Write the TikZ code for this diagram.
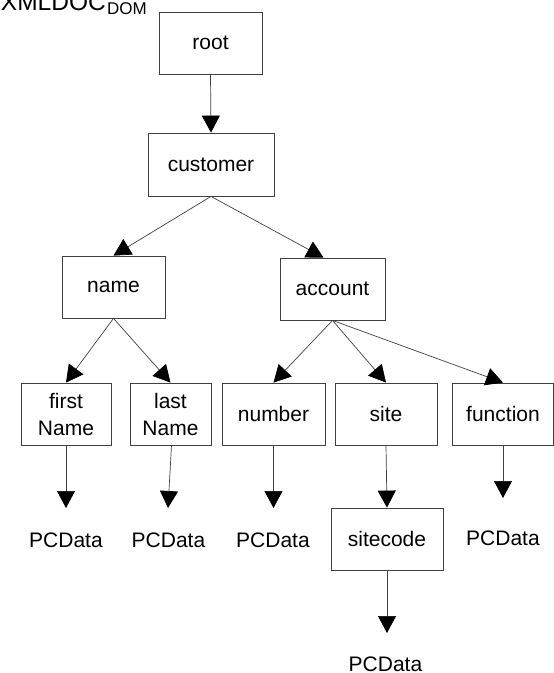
\documentclass[tikz,border=0pt]{standalone}
\usepackage{fontspec}
\setmainfont{Liberation Sans}
\usetikzlibrary{arrows.meta,calc}
\begin{document}
\begin{tikzpicture}[x=1pt,y=-1pt,
  box/.style={draw=black!75,line width=0.8pt,inner sep=0pt,align=center,
    font=\fontsize{21}{27}\selectfont},
  leaf/.style={inner sep=0pt,font=\fontsize{21}{25}\selectfont,anchor=base},
  arr/.style={draw=black!75,line width=0.7pt,-{Triangle[length=17pt,width=18pt,color=black]}}]
\useasboundingbox (0,0) rectangle (554,673);
% title (clipped at top)
\node[inner sep=0pt,anchor=base east,font=\fontsize{24.5}{28}\selectfont] (title) at (106,10) {XMLDOC};
\node[inner sep=0pt,anchor=base west,font=\fontsize{17}{20}\selectfont] (sub) at (107,14) {DOM};
% boxes
\node[box,minimum width=103,minimum height=62] (root) at (210.5,43) {root};
\node[box,minimum width=126,minimum height=63] (customer) at (211,164.5) {customer};
\node[box,minimum width=103,minimum height=62] (name) at (113.5,287) {name};
\node[box,minimum width=105,minimum height=62] (account) at (332.5,289) {account};
\node[box,minimum width=90,minimum height=62] (first) at (66,414) {first\\Name};
\node[box,minimum width=81,minimum height=62] (last) at (170.5,414) {last\\Name};
\node[box,minimum width=103,minimum height=62] (number) at (273.5,414) {number};
\node[box,minimum width=102,minimum height=62] (site) at (386,414) {site};
\node[box,minimum width=101,minimum height=62] (function) at (503,414) {function};
\node[box,minimum width=112,minimum height=62] (sitecode) at (387,539) {sitecode};
% PCData leaves
\node[leaf] (p1) at (66,547) {PCData};
\node[leaf] (p2) at (168.5,547) {PCData};
\node[leaf] (p3) at (273,547) {PCData};
\node[leaf] (p4) at (503,545) {PCData};
\node[leaf] (p5) at (385.5,671) {PCData};
% free ends
\coordinate (e1) at (66,508);
\coordinate (e2) at (168,508);
\coordinate (e3) at (273.5,508);
\coordinate (e4) at (503,498);
\coordinate (e5) at (387,633);
% connectors
\draw[arr] (root.south) -- (customer.north);
\draw[arr] (customer.south) -- (name.north);
\draw[arr] (customer.south) -- ($(account.north)+(-9,0)$);
\draw[arr] (name.south) -- (first.north);
\draw[arr] (name.south) -- (last.north);
\draw[arr] (account.south) -- (number.north);
\draw[arr] (account.south) -- (site.north);
\draw[arr] (account.south) -- (function.north);
\draw[arr] (site.south) -- (sitecode.north);
\draw[arr] (first.south) -- (e1);
\draw[arr] ([xshift=1pt]last.south) -- (e2);
\draw[arr] (number.south) -- (e3);
\draw[arr] (function.south) -- (e4);
\draw[arr] (sitecode.south) -- (e5);
\end{tikzpicture}
\end{document}
